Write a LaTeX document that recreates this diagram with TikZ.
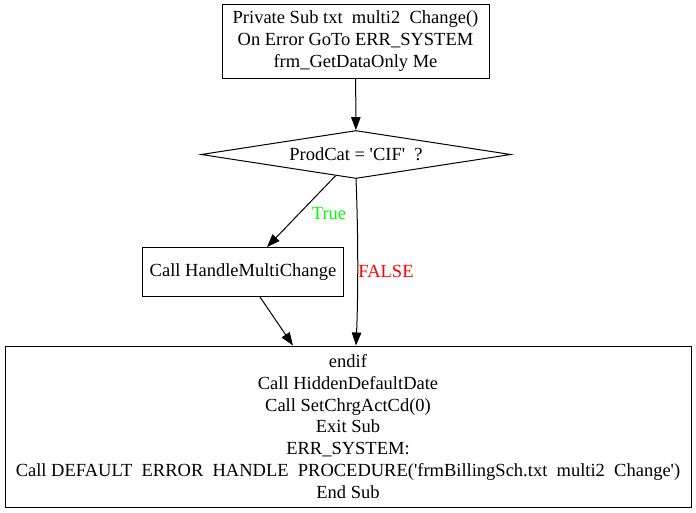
\documentclass[tikz,border=0pt]{standalone}
\usepackage{fontspec}
\setmainfont{Liberation Serif}
\usetikzlibrary{arrows.meta,shapes.geometric}
\newcommand{\sq}{\textquotesingle}
\begin{document}
\begin{tikzpicture}[x=1pt,y=-1pt,
  every node/.style={font=\fontsize{18.5}{21.7}\selectfont, inner sep=0pt},
  box/.style={draw, line width=1pt, rectangle, align=center},
  dia/.style={draw, line width=1pt, diamond, aspect=6.46},
  arr/.style={line width=1pt, -{Triangle[length=13pt,width=9.5pt]}},
  lbl/.style={font=\fontsize{18.5}{21.7}\selectfont}
]
\useasboundingbox (0,0) rectangle (696,512);
\fill[white] (0,0) rectangle (696,512);
\node[box, minimum width=267pt, minimum height=74pt] (top) at (355.5,41)
  {Private Sub txt\ \ multi2\ \ Change()\\On Error GoTo ERR\_SYSTEM\\frm\_GetDataOnly Me};
\node[dia, minimum width=310pt, minimum height=48pt] (dec) at (356,154.5)
  {ProdCat = \sq CIF\sq\ \ ?};
\node[box, minimum width=201pt, minimum height=49pt] (hmc) at (243,272)
  {Call HandleMultiChange};
\node[box, minimum width=686pt, minimum height=161pt] (bot) at (348,426.5)
  {endif\\Call HiddenDefaultDate\\Call SetChrgActCd(0)\\Exit Sub\\ERR\_SYSTEM:\\Call DEFAULT\ \ ERROR\ \ HANDLE\ \ PROCEDURE(\sq frmBillingSch.txt\ \ multi2\ \ Change\sq)\\End Sub};
\draw[arr] (top) -- (dec);
\draw[arr] (dec) -- (hmc);
\node[lbl, text={rgb,255:red,0;green,255;blue,0}] (tl) at (329,214) {True};
\draw[arr] (dec.south) .. controls (358.5,240) and (358,300) .. (bot.north -| dec.south);
\node[lbl, text=red] (fl) at (386,271) {FALSE};
\draw[arr] (hmc) -- (bot);
\end{tikzpicture}
\end{document}
